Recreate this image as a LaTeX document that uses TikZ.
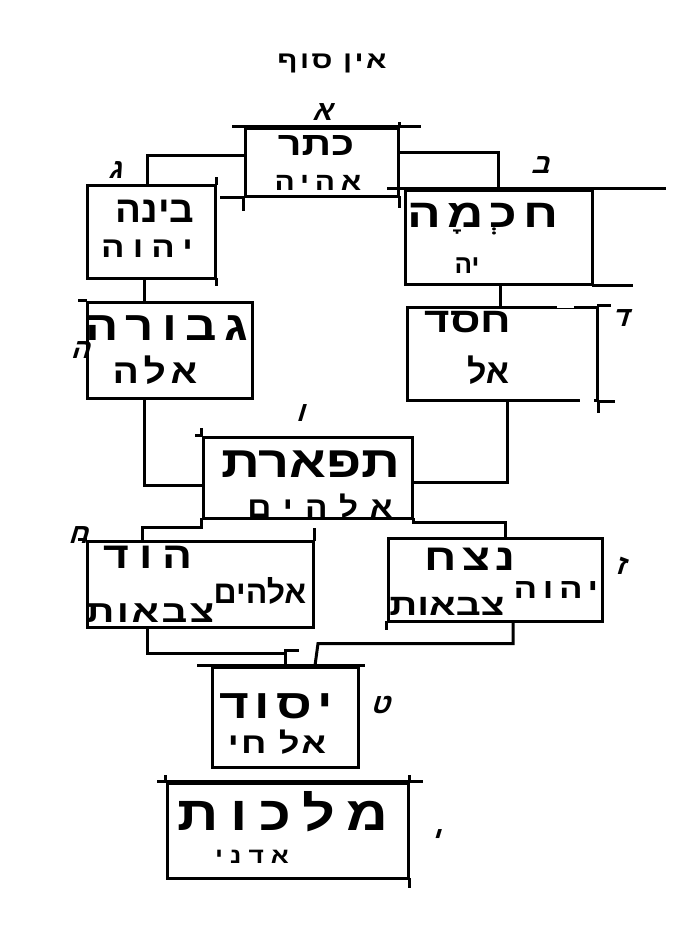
\documentclass[tikz,border=0pt]{standalone}
\usepackage{fontspec}
\usetikzlibrary{calc}
\TeXXeTstate=1
\newfontfamily\hebfont[Script=Hebrew]{Liberation Sans}
\newcommand\HT[4]{{\hebfont\bfseries\fontsize{#1}{#1}\selectfont\addfontfeatures{FakeStretch=#2,LetterSpace=#3}#4}}
\newcommand\HM[2]{{\hebfont\bfseries\fontsize{#1}{#1}\selectfont\addfontfeature{FakeSlant=0.3}#2}}
\begin{document}
\begin{tikzpicture}[x=1pt,y=-1pt,line width=3pt,line cap=rect,
  box/.style={draw,rectangle,inner sep=0pt},
  lbl/.style={inner sep=0pt,anchor=base},
  numbermark/.style={inner sep=0pt}]
\useasboundingbox[fill=white] (0,0) rectangle (679,926);

% boxes
\node[box,minimum width=153pt,minimum height=68pt] (keter) at (321.5,162) {};
\node[box,minimum width=128pt,minimum height=93pt] (binah) at (151,231.5) {};
\node[box,minimum width=187pt,minimum height=94pt] (chokhmah) at (498.5,237) {};
\node[box,minimum width=165pt,minimum height=96pt] (gevurah) at (169.5,350) {};
\node[box,minimum width=190pt,minimum height=93pt] (chesed) at (502,353.5) {};
\node[box,minimum width=209pt,minimum height=81pt] (tiferet) at (307.5,477.5) {};
\node[box,minimum width=226pt,minimum height=86pt] (hod) at (200,584) {};
\node[box,minimum width=214pt,minimum height=83pt] (netzach) at (495,579.5) {};
\node[box,minimum width=146pt,minimum height=100pt] (yesod) at (285,717) {};
\node[box,minimum width=241pt,minimum height=95pt] (malkhut) at (287.5,830.5) {};

% gaps in the frame of chesed
\draw[white,line width=5pt,line cap=butt] ([xshift=-42pt]chesed.north east) -- ([xshift=-25pt]chesed.north east);
\draw[white,line width=5pt,line cap=butt] ([xshift=-19pt]chesed.south east) -- ([xshift=-5pt]chesed.south east);

% connectors
\draw (keter.west |- 0,155) -| ($(binah.north west)!.47!(binah.north east)$);
\draw (keter.east |- 0,152) -| ($(chokhmah.north west)!.5!(chokhmah.north east)$);
\path ($(binah.south west)!.453!(binah.south east)$) coordinate (b1);
\draw (b1) -- (b1 |- gevurah.north);
\path ($(chokhmah.south west)!.508!(chokhmah.south east)$) coordinate (c1);
\draw (c1) -- (c1 |- chesed.north);
\draw ($(gevurah.south west)!.35!(gevurah.south east)$) |- (tiferet.west |- 0,485);
\draw ($(chesed.south west)!.526!(chesed.south east)$) |- (tiferet.east |- 0,482);
\draw (tiferet.south west) -- ++(0,8) -| ($(hod.north west)!.248!(hod.north east)$);
\draw (tiferet.south east) -- ++(0,3) -| ($(netzach.north west)!.547!(netzach.north east)$);
\draw ($(hod.south west)!.27!(hod.south east)$) -- ++(0,25) -| (yesod.north);
\draw ($(netzach.south west)!.584!(netzach.south east)$) |- ($(yesod.north)+(33,-22)$) -- ($(yesod.north)+(30,0)$);

% overshooting strokes
\draw ([xshift=-10pt]keter.north west) -- ([xshift=20pt]keter.north east);
\draw ([xshift=-22pt]keter.south west) -- (keter.south west) -- ++(0,12);
\draw (keter.north east) -- ++(0,-3);
\draw (keter.south east) -- ++(0,9);
\draw ([xshift=-15pt]chokhmah.north west) -- ([xshift=71pt]chokhmah.north east);
\draw (chokhmah.south east) -- ++(38,0);
\draw (chesed.north east) -- ++(11,0);
\draw (chesed.south east) -- ++(0,10);
\draw (chesed.south east) -- ++(15,0);
\draw (binah.north east) -- ++(0,-5);
\draw (binah.south east) -- ++(0,5);
\draw (gevurah.north west) -- ++(-6,0);
\draw (tiferet.north west) -- ++(0,-6);
\draw (tiferet.north west) -- ++(-5,0);
\draw (hod.north east) -- ++(0,-10);
\draw (hod.north west) -- ++(-6,0);
\draw (netzach.south west) -- ++(0,6);
\draw ($(yesod.north)+(0,-15)$) -- ++(12,0);
\draw ([xshift=-12pt]yesod.north west) -- ([xshift=4pt]yesod.north east);
\draw ([xshift=-7pt]malkhut.north west) -- ([xshift=12pt]malkhut.north east);
\draw (malkhut.north west) -- ++(0,-5);
\draw (malkhut.north east) -- ++(0,-5);
\draw (malkhut.south east) -- ++(0,7);

% title
\node[lbl] (einsof) at (332,68) {{\hebfont\bfseries\fontsize{24}{24}\selectfont\addfontfeatures{FakeStretch=1.25,LetterSpace=10}\beginR אין סוף\endR}};

% texts
\node[lbl] (keterT) at (316,155) {\HT{33}{1.25}{0}{\beginR כתר\endR}};
\node[lbl] (keterN) at (318,190) {\HT{25}{1.2}{23}{\beginR אהיה\endR}};
\node[lbl] (binahT) at (155,222) {\HT{37}{1.04}{0}{\beginR בינה\endR}};
\node[lbl] (binahN) at (147,257) {\HT{29}{1.2}{28}{\beginR יהוה\endR}};
\node[lbl] (chokhmahT) at (483,227) {\HT{40}{1.25}{16}{\beginR חכְמָה\endR}};
\node[lbl] (chokhmahN) at (467,273) {\HT{26}{1.0}{0}{\beginR יה\endR}};
\node[lbl] (gevurahT) at (167,340) {\HT{41}{1.2}{20}{\beginR גבורה\endR}};
\node[lbl] (gevurahN) at (155,383) {\HT{34}{1.15}{16}{\beginR אלה\endR}};
\node[lbl] (chesedT) at (468,332) {\HT{35}{1.25}{0}{\beginR חסד\endR}};
\node[lbl] (chesedN) at (488,383) {\HT{34}{1.0}{0}{\beginR אל\endR}};
\node[lbl] (tiferetT) at (311,477) {\HT{44}{1.23}{0}{\beginR תפארת\endR}};
\node[lbl] (tiferetN) at (320,517) {\HT{29}{1.15}{42}{\beginR אלהים\endR}};
\node[lbl] (hodT) at (148,568) {\HT{37}{1.2}{26}{\beginR הוד\endR}};
\node[lbl] (hodN1) at (260,603) {\HT{32}{1.0}{0}{\beginR אלהים\endR}};
\node[lbl] (hodN2) at (150,622) {\HT{31}{1.3}{8}{\beginR צבאות\endR}};
\node[lbl] (netzachT) at (470,570) {\HT{37}{1.25}{14}{\beginR נצח\endR}};
\node[lbl] (netzachN1) at (556,598) {\HT{28}{1.25}{20}{\beginR יהוה\endR}};
\node[lbl] (netzachN2) at (447,615) {\HT{30}{1.3}{0}{\beginR צבאות\endR}};
\node[lbl] (yesodT) at (276,718) {\HT{41}{1.25}{15}{\beginR יסוד\endR}};
\node[lbl] (yesodN) at (277,753) {\HT{29}{1.25}{8}{\beginR אל חי\endR}};
\node[lbl] (malkhutT) at (283,830) {\HT{48}{1.2}{25}{\beginR מלכות\endR}};
\node[lbl] (malkhutN) at (252,863) {\HT{22}{1.2}{32}{\beginR אדני\endR}};

% numbering marks
\node[numbermark] (m1) at (322,112) {\HM{28}{\beginR א\endR}};
\node[numbermark] (m2) at (540,165) {\HM{28}{\beginR ב\endR}};
\node[numbermark] (m3) at (115,170) {\HM{28}{\beginR ג\endR}};
\node[numbermark] (m4) at (620,318) {\HM{28}{\beginR ד\endR}};
\node[numbermark] (m5) at (80,350) {\HM{28}{\beginR ה\endR}};
\node[numbermark] (m6) at (300,413) {\HM{28}{\beginR ו\endR}};
\node[numbermark] (m7) at (620,566) {\HM{28}{\beginR ז\endR}};
\node[numbermark] (m8) at (78,535) {\HM{28}{\beginR ח\endR}};
\node[numbermark] (m9) at (380,705) {\HM{28}{\beginR ט\endR}};
\node[numbermark] (m10) at (435,838) {\HM{28}{\beginR י\endR}};
\end{tikzpicture}
\end{document}
